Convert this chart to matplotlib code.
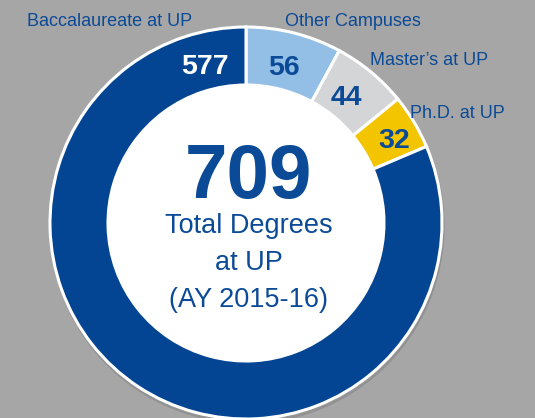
import matplotlib.pyplot as plt
from matplotlib.patches import Circle

# ---------------------- DATA ------------------------
categories = ['Other Campuses', "Master\u2019s at UP", 'Ph.D. at UP', 'Baccalaureate at UP']
degrees = [56, 44, 32, 577]
colors = ['#93bfe7', '#d4d5d7', '#f2c500', '#034592']
total = sum(degrees)
subtitle = ['Total Degrees', 'at UP', '(AY 2015-16)']

BG = '#a6a6a6'
TXT = '#0b4a96'
plt.rcParams['font.family'] = ['Liberation Sans', 'DejaVu Sans']

# ---------------------- FIGURE (pixel coords, y up) ------------------------
W, H = 535, 418
fig = plt.figure(figsize=(W / 100, H / 100), dpi=100, facecolor=BG)
ax = fig.add_axes([0, 0, 1, 1])
ax.set_xlim(0, W)
ax.set_ylim(0, H)
ax.set_aspect('equal')
ax.axis('off')

cx, cy, R, ring = 246, H - 223, 196, 58

# soft shadow under the ring
ax.add_patch(Circle((cx + 1, cy - 3), R + 1, color='#8a8a8a', alpha=0.6, zorder=0))

ax.add_patch(Circle((cx, cy), R - ring, color='white', zorder=1))
wedges, _ = ax.pie(degrees, colors=colors, startangle=90, counterclock=False,
                   center=(cx, cy), radius=R, frame=True,
                   wedgeprops=dict(width=ring, edgecolor='white', linewidth=2.2))
ax.set_xlim(0, W)
ax.set_ylim(0, H)
ax.axis('off')

# ---------------------- VALUE LABELS ------------------------
value_pos = [(284, 75), (346, 105), (394, 148), (205, 74)]
value_col = [TXT, TXT, TXT, 'white']
for v, (x, y), c in zip(degrees, value_pos, value_col):
    ax.text(x, H - y, str(v), ha='center', va='baseline', color=c,
            fontsize=20.5, fontweight='bold')

# ---------------------- CATEGORY LABELS ------------------------
cat_pos = [(353, 26), (429, 65), (457, 118), (110, 26)]
for name, (x, y) in zip(categories, cat_pos):
    ax.text(x, H - y, name, ha='center', va='baseline', color=TXT, fontsize=13)

# ---------------------- CENTER TEXT ------------------------
ax.text(249, H - 198, str(total), ha='center', va='baseline', color=TXT,
        fontsize=55, fontweight='bold')
for line, y in zip(subtitle, [233, 270, 307]):
    ax.text(248.5, H - y, line, ha='center', va='baseline', color=TXT, fontsize=19.5)

fig.savefig('out.png', dpi=100, facecolor=BG)
